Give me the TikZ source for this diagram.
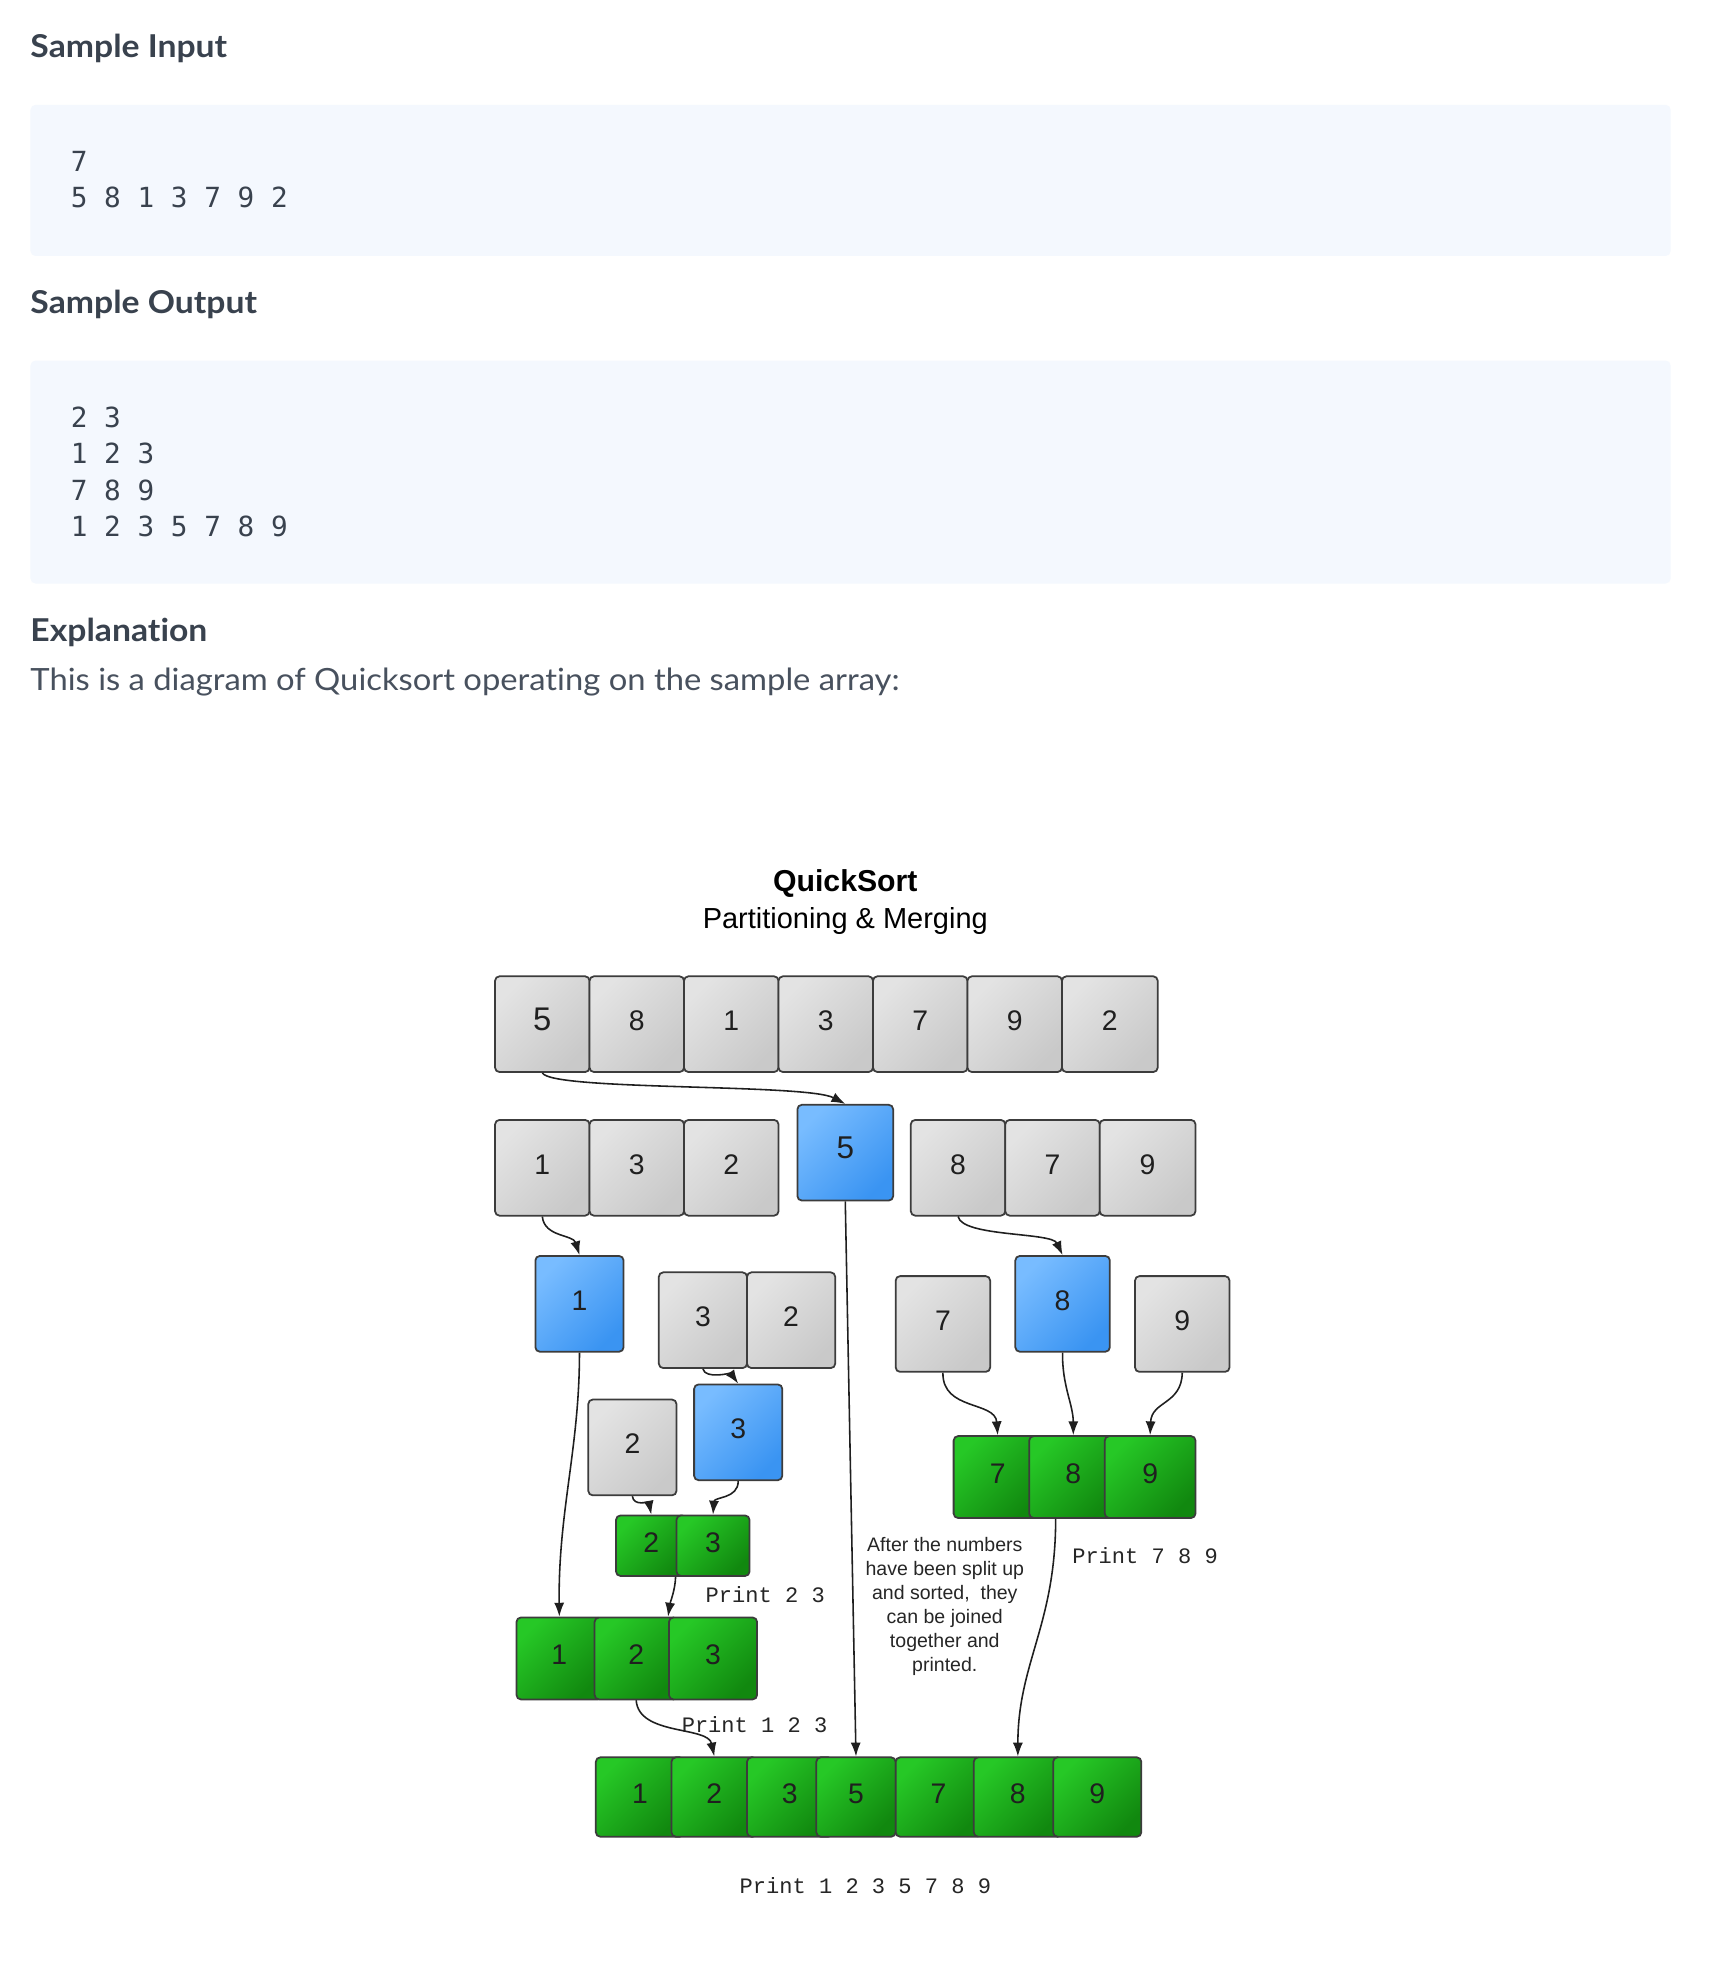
\documentclass[tikz,border=0pt]{standalone}
\usepackage{fontspec}
\setmainfont{Liberation Sans}
\newfontfamily\latofont{Lato}[FakeStretch=1.07,Ligatures=NoCommon]
\newfontfamily\codefont{DejaVu Sans Mono}
\newfontfamily\printfont{Liberation Mono}
\usetikzlibrary{arrows.meta,calc}
\definecolor{hrtext}{HTML}{39424E}
\definecolor{hrbody}{HTML}{48515E}
\definecolor{samplebg}{HTML}{F4F8FE}
\definecolor{cellline}{HTML}{3C3C3C}
\definecolor{grayA}{HTML}{E3E3E3}
\definecolor{grayB}{HTML}{C9C9C9}
\definecolor{blueA}{HTML}{78BCFF}
\definecolor{blueB}{HTML}{3A94F2}
\definecolor{greenA}{HTML}{26C826}
\definecolor{greenB}{HTML}{11880F}
\tikzset{
  cellbase/.style={draw=cellline, line width=1.4pt, rounded corners=3.5pt, inner sep=0pt,
    text height=16pt, text depth=6pt,
    font=\fontsize{22.5}{26}\selectfont, text=black!88},
  graycell/.style={cellbase, top color=grayA, bottom color=grayB, shading angle=45},
  bluecell/.style={cellbase, top color=blueA, bottom color=blueB, shading angle=45},
  greencell/.style={cellbase, top color=greenA, bottom color=greenB, shading angle=45},
  heading/.style={anchor=base west, inner sep=0pt, text=hrtext, font=\latofont\bfseries\fontsize{25}{30}\selectfont},
  codeline/.style={anchor=base west, inner sep=0pt, text=hrtext, font=\codefont\fontsize{22}{26}\selectfont},
  samplebox/.style={fill=samplebg, rounded corners=4pt, inner sep=0pt, anchor=north west},
  printlabel/.style={anchor=west, inner sep=0pt, text=black!85, font=\printfont\fontsize{17.5}{20}\selectfont},
  conn/.style={draw=black!88, line width=1.25pt, -{Latex[length=11pt,width=8pt]}}
}
\newcommand{\qcell}[7]{%
  \pgfmathsetmacro\qw{#5-#3}\pgfmathsetmacro\qh{#6-#4}%
  \pgfmathsetmacro\qx{(#3+#5)/2}\pgfmathsetmacro\qy{(#4+#6)/2}%
  \node[#2, minimum width=\qw pt, minimum height=\qh pt] (#1) at (\qx,\qy) {#7};}
\begin{document}
\begin{tikzpicture}[x=1pt,y=-1pt]
\useasboundingbox (0,0) rectangle (1365,1567);
\fill[white] (0,0) rectangle (1365,1567);
% ---------- header part ----------
\node[heading] (hin) at (24,46) {Sample Input};
\node[samplebox, minimum width=1302pt, minimum height=120pt] (bin) at (24,83) {};
\node[codeline] (in1) at (56,136) {7};
\node[codeline] (in2) at (56,165) {5 8 1 3 7 9 2};
\node[heading] (hout) at (24,249) {Sample Output};
\node[samplebox, minimum width=1302pt, minimum height=177pt] (bout) at (24,286) {};
\node[codeline] (o1) at (56,339) {2 3};
\node[codeline] (o2) at (56,368) {1 2 3};
\node[codeline] (o3) at (56,397) {7 8 9};
\node[codeline] (o4) at (56,426) {1 2 3 5 7 8 9};
\node[heading] (hexp) at (24,509) {Explanation};
\node[anchor=base west, inner sep=0pt, text=hrbody, font=\latofont\fontsize{24.3}{30}\selectfont] (expl) at (24,548) {This is a diagram of Quicksort operating on the sample array:};
% ---------- diagram ----------
\node[inner sep=0pt, font=\bfseries\fontsize{24}{28}\selectfont] (title) at (671,701) {QuickSort};
\node[inner sep=0pt, font=\fontsize{23}{27}\selectfont] (subtitle) at (671,731) {Partitioning \& Merging};
% top row
\qcell{t1}{graycell}{393}{775}{468}{851}{\fontsize{26}{30}\selectfont 5}
\qcell{t2}{graycell}{468}{775}{543}{851}{8}
\qcell{t3}{graycell}{543}{775}{618}{851}{1}
\qcell{t4}{graycell}{618}{775}{693}{851}{3}
\qcell{t5}{graycell}{693}{775}{768}{851}{7}
\qcell{t6}{graycell}{768}{775}{843}{851}{9}
\qcell{t7}{graycell}{843}{775}{919}{851}{2}
% second row
\qcell{sa1}{graycell}{393}{889}{468}{965}{1}
\qcell{sa2}{graycell}{468}{889}{543}{965}{3}
\qcell{sa3}{graycell}{543}{889}{618}{965}{2}
\qcell{p5}{bluecell}{633}{877}{709}{953}{\fontsize{25}{30}\selectfont 5}
\qcell{sb1}{graycell}{723}{889}{798}{965}{8}
\qcell{sb2}{graycell}{798}{889}{873}{965}{7}
\qcell{sb3}{graycell}{873}{889}{949}{965}{9}
% third row
\qcell{p1}{bluecell}{425}{997}{495}{1073}{1}
\qcell{ra1}{graycell}{523}{1010}{593}{1086}{3}
\qcell{ra2}{graycell}{593}{1010}{663}{1086}{2}
\qcell{r7}{graycell}{711}{1013}{786}{1089}{7}
\qcell{p8}{bluecell}{806}{997}{881}{1073}{8}
\qcell{r9}{graycell}{901}{1013}{976}{1089}{9}
% fourth row
\qcell{q2}{graycell}{467}{1111}{537}{1187}{2}
\qcell{p3}{bluecell}{551}{1099}{621}{1175}{3}
% green 7 8 9
\qcell{g7}{greencell}{757}{1140}{827}{1205}{7}
\qcell{g8}{greencell}{817}{1140}{887}{1205}{8}
\qcell{g9}{greencell}{877}{1140}{949}{1205}{9}
% green 2 3
\qcell{gb2}{greencell}{489}{1203}{545}{1251}{2}
\qcell{gb3}{greencell}{537}{1203}{595}{1251}{3}
% green 1 2 3
\qcell{gc1}{greencell}{410}{1284}{478}{1349}{1}
\qcell{gc2}{greencell}{472}{1284}{538}{1349}{2}
\qcell{gc3}{greencell}{531}{1284}{601}{1349}{3}
% final row
\qcell{f1}{greencell}{473}{1395}{543}{1458}{1}
\qcell{f2}{greencell}{533}{1395}{601}{1458}{2}
\qcell{f3}{greencell}{593}{1395}{661}{1458}{3}
\qcell{f5}{greencell}{648}{1395}{711}{1458}{5}
\qcell{f7}{greencell}{711}{1395}{779}{1458}{7}
\qcell{f8}{greencell}{773}{1395}{843}{1458}{8}
\qcell{f9}{greencell}{836}{1395}{906}{1458}{9}
% labels
\node[printlabel] (pr23) at (560,1266) {Print 2 3};
\node[printlabel] (pr789) at (851,1235) {Print 7 8 9};
\node[printlabel] (pr123) at (541,1369) {Print 1 2 3};
\node[printlabel] (prall) at (587,1497) {Print 1 2 3 5 7 8 9};
\node[inner sep=0pt, align=center, font=\fontsize{15.5}{19}\selectfont, text=black!85] (note) at (750,1275)
  {After the numbers\\have been split up\\and sorted,~ they\\can be joined\\together and\\printed.};
% connectors
\draw[conn] (t1.south) .. controls (438,866) and (640,860) .. (p5.north);
\draw[conn] (sa1.south) .. controls (432,982) and (455,980) .. (p1.north);
\draw[conn] (sb1.south) .. controls (764,982) and (835,978) .. (p8.north);
\draw[conn] (ra1.south) .. controls (560,1095) and (580,1090) .. (p3.north);
\draw[conn] (r7.south) .. controls (748,1120) and (790,1112) .. (g7.north);
\draw[conn] (p8.south) .. controls (843,1100) and (852,1115) .. (g8.north);
\draw[conn] (r9.south) .. controls (938,1115) and (914,1112) .. (g9.north);
\draw[conn] (q2.south) .. controls (503,1196) and (515,1192) .. (gb2.north);
\draw[conn] (p3.south) .. controls (586,1190) and (567,1188) .. (gb3.north);
\draw[conn] (gb3.south west) .. controls (536,1262) and (532,1272) .. (gc3.north west);
\draw[conn] (p1.south) .. controls (460,1150) and (443,1200) .. (gc1.north);
\draw[conn] (gc2.south) .. controls (507,1378) and (562,1370) .. (f2.north);
\draw[conn] (p5.south) -- (f5.north);
\draw[conn] ($(g8.south)+(-14,0)$) .. controls (838,1290) and (808,1320) .. (f8.north);
\end{tikzpicture}
\end{document}
